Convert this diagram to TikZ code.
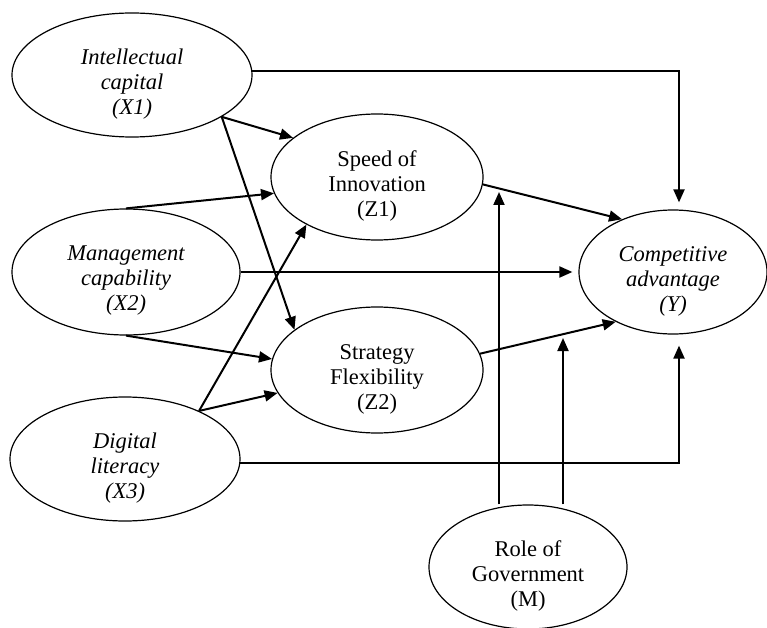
\documentclass[tikz,border=0pt]{standalone}
\usepackage{fontspec}
\setmainfont{Liberation Serif}
\usetikzlibrary{arrows.meta,shapes.geometric,calc}
\begin{document}
\begin{tikzpicture}[x=1pt,y=-1pt,
  ell/.style={draw, ellipse, line width=1.2pt, inner sep=0pt},
  lbl/.style={align=center, font=\fontsize{22.5}{25}\selectfont, inner sep=0pt},
  ilbl/.style={align=center, font=\fontsize{22.5}{25}\selectfont\itshape, inner sep=0pt},
  arr/.style={line width=2pt, -{Triangle[length=13pt,width=11pt]}}]
\useasboundingbox (0,0) rectangle (767,628);
\fill[white] (0,0) rectangle (767,628);

% ellipses
\node[ell, minimum width=240pt, minimum height=124pt] (X1) at (132,75) {};
\node[ell, minimum width=228pt, minimum height=126pt] (X2) at (126,272) {};
\node[ell, minimum width=230pt, minimum height=124pt] (X3) at (125,459) {};
\node[ell, minimum width=212pt, minimum height=126pt] (Z1) at (377,177) {};
\node[ell, minimum width=212pt, minimum height=126pt] (Z2) at (377,370) {};
\node[ell, minimum width=188pt, minimum height=124pt] (Y) at (673,272) {};
\node[ell, minimum width=198pt, minimum height=124pt] (M) at (528,567) {};

% labels
\node[ilbl] (X1t) at ([yshift=-9pt]X1.center) {Intellectual\\capital\\(X1)};
\node[ilbl] (X2t) at ([yshift=-9pt]X2.center) {Management\\capability\\(X2)};
\node[ilbl] (X3t) at ([yshift=-9pt]X3.center) {Digital\\literacy\\(X3)};
\node[lbl] (Z1t) at ([yshift=-9pt]Z1.center) {Speed of\\Innovation\\(Z1)};
\node[lbl] (Z2t) at ([yshift=-9pt]Z2.center) {Strategy\\Flexibility\\(Z2)};
\node[ilbl] (Yt) at ([yshift=-9pt]Y.center) {Competitive\\advantage\\(Y)};
\node[lbl] (Mt) at ([yshift=-9pt]M.center) {Role of\\Government\\(M)};

% connectors
\draw[arr, shorten >=7pt] (X1.2) -| ([xshift=6pt]Y.north);
\draw[arr] (X1.-25) -- (Z1.155);
\draw[arr] (X1.-25) -- (Z2.154);
\draw[arr] (X2.north) -- (Z1.189);
\draw[arr, shorten >=6pt] (X2.east) -- (Y.west);
\draw[arr] (X2.south) -- (Z2.174);
\draw[arr] (X3.33) -- (Z1.214);
\draw[arr] (X3.33) -- (Z2.193);
\draw[arr, shorten >=11pt] (X3.-2) -| ([xshift=6pt]Y.south);
\draw[arr] (Z1.-4) -- (Y.134);
\draw[arr] (Z2.9) -- (Y.221);

\coordinate (m1) at (499,192);
\coordinate (m2) at (563,338);
\draw[arr] (M.north -| m1) -- (m1);
\draw[arr] (M.north -| m2) -- (m2);
\end{tikzpicture}
\end{document}
